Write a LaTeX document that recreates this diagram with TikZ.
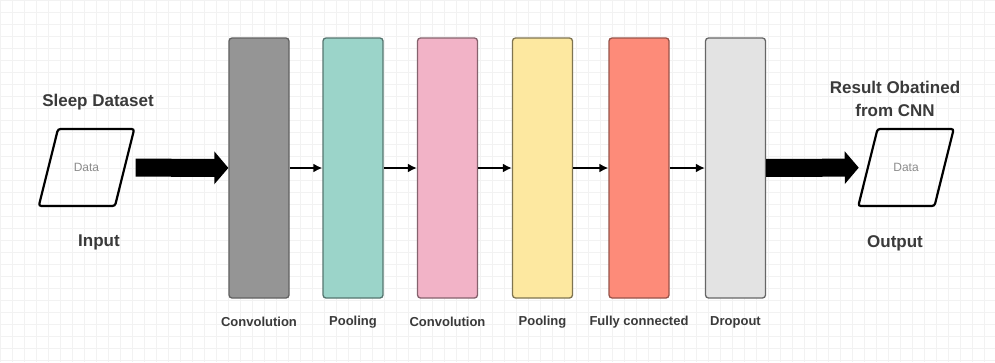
\documentclass[tikz,border=0pt]{standalone}
\usepackage{fontspec}
\setmainfont{Liberation Sans}
\usetikzlibrary{shapes.geometric,arrows.meta}
\definecolor{convgray}{HTML}{959595}
\definecolor{poolteal}{HTML}{9BD4C9}
\definecolor{convpink}{HTML}{F2B3C7}
\definecolor{poolyellow}{HTML}{FDE8A0}
\definecolor{fcsalmon}{HTML}{FD8B79}
\definecolor{droplight}{HTML}{E3E3E3}
\definecolor{labeltext}{HTML}{3A3A3A}
\begin{document}
\begin{tikzpicture}[x=1pt,y=-1pt]
                    \tikzstyle{gridline}=[black!5,line width=0.6pt]
                    \tikzstyle{layer}=[draw,line width=1.3pt,rounded corners=3pt,minimum width=60pt,minimum height=260pt,inner sep=0pt]
                    \tikzstyle{data}=[trapezium,trapezium left angle=76,trapezium right angle=104,draw,line width=2.2pt,rounded corners=2.5pt,text width=26pt,align=center,text height=8.6pt,text depth=0pt,inner xsep=15.5pt,inner ysep=34.2pt,text=black!45,font=\fontsize{12}{14}\selectfont]
                    \tikzstyle{title}=[text=labeltext,font=\bfseries\fontsize{17}{23}\selectfont,inner sep=0pt]
                    \tikzstyle{caption}=[text=labeltext,font=\bfseries\fontsize{13}{15}\selectfont,inner sep=0pt]
                    \tikzstyle{fat}=[line width=18pt,-{Triangle[length=14pt,width=32pt]}]
                    \tikzstyle{thin}=[line width=2.4pt,-{Latex[length=9pt,width=9pt]}]

                    \useasboundingbox (0,0) rectangle (995,362);
                    \fill [white] (0,0) rectangle (995,362);
                    \foreach \gx in {0,12,...,995} \draw [gridline] (\gx,0) -- (\gx,362);
                    \foreach \gy in {0,12,...,362} \draw [gridline] (0,\gy) -- (995,\gy);

                    \node (c1) at (259,168) [layer,fill=convgray,draw=convgray!65!black] {};
                    \node (p1) at (353,168) [layer,fill=poolteal,draw=poolteal!55!black] {};
                    \node (c2) at (447.5,168) [layer,fill=convpink,draw=convpink!55!black] {};
                    \node (p2) at (542.5,168) [layer,fill=poolyellow,draw=poolyellow!50!black] {};
                    \node (fc) at (639,168) [layer,fill=fcsalmon,draw=fcsalmon!60!black] {};
                    \node (dr) at (735.5,168) [layer,fill=droplight,draw=droplight!45!black] {};

                    \node (in) at (86.5,167.5) [data] {Data};
                    \node (out) at (906,167.5) [data] {Data};

                    \node (dataset) at (98,102) [title] {Sleep Dataset};
                    \node (input) at (99,242) [title] {Input};
                    \node (result) at (895,99) [title,align=center] {Result Obatined\\from CNN};
                    \node (output) at (895,243) [title] {Output};

                    \node (l1) at (259,322) [caption] {Convolution};
                    \node (l2) at (353,322) [caption] {Pooling};
                    \node (l3) at (447.5,322) [caption] {Convolution};
                    \node (l4) at (542.5,322) [caption] {Pooling};
                    \node (l5) at (639,322) [caption] {Fully connected};
                    \node (l6) at (735.5,322) [caption] {Dropout};

                    \draw [fat,shorten <=10pt] (in) -- (c1);
                    \draw [fat,shorten >=8pt] (dr) -- (out);

                    \draw [thin] (c1) -- (p1);
                    \draw [thin] (p1) -- (c2);
                    \draw [thin] (c2) -- (p2);
                    \draw [thin] (p2) -- (fc);
                    \draw [thin] (fc) -- (dr);
                \end{tikzpicture}
\end{document}
